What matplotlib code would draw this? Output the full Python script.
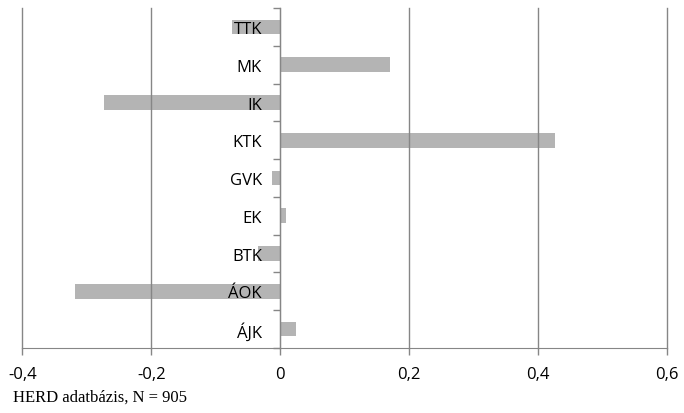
import numpy as np
import matplotlib.pyplot as plt
from matplotlib.ticker import FixedLocator

# karok, felülről lefelé
categories = ['TTK', 'MK', 'IK', 'KTK', 'GVK', 'EK', 'BTK', 'ÁOK', 'ÁJK']
values = [-0.075, 0.171, -0.274, 0.426, -0.013, 0.009, -0.035, -0.319, 0.025]
xticks = [-0.4, -0.2, 0, 0.2, 0.4, 0.6]
xtick_labels = ['-0,4', '-0,2', '0', '0,2', '0,4', '0,6']
note = 'HERD adatbázis, N = 905'

plt.rcParams['font.family'] = ['Open Sans', 'DejaVu Sans']
gray = '#868686'

fig = plt.figure(figsize=(6.84, 4.14), dpi=100)
ax = fig.add_axes([0.0326, 0.157, 0.9424, 0.821])

y = np.arange(len(categories))
ax.barh(y, values, height=0.39, color='#b4b4b4', zorder=1)

ax.set_xlim(-0.4, 0.6)
ax.set_ylim(len(categories) - 0.5, -0.5)

ax.set_xticks(xticks)
ax.set_xticklabels(xtick_labels, fontsize=12)
ax.grid(axis='x', color=gray, linewidth=1.0, zorder=2)
for gl in ax.get_xgridlines():
    gl.set_clip_on(False)
ax.set_axisbelow(False)
ax.tick_params(axis='x', length=5, color=gray, width=1.0, pad=8)

# y tengely a nullánál
ax.spines['left'].set_position(('data', 0))
ax.spines['left'].set_color(gray)
ax.spines['left'].set_zorder(3)
ax.spines['bottom'].set_color(gray)
ax.spines['top'].set_visible(False)
ax.spines['right'].set_visible(False)

ax.set_yticks(y)
ax.set_yticklabels(categories, fontsize=12)
ax.yaxis.set_minor_locator(FixedLocator(np.arange(len(categories) + 1) - 0.5))
ax.tick_params(axis='y', which='major', length=0, pad=13)
ax.tick_params(axis='y', which='minor', length=5, color=gray, width=1.0)
for lbl in ax.get_yticklabels():
    lbl.set_zorder(5)

fig.text(0.019, 0.029, note, family=['Liberation Serif', 'DejaVu Serif'],
         fontsize=12, ha='left', va='baseline')

fig.savefig('out.png', dpi=100)
